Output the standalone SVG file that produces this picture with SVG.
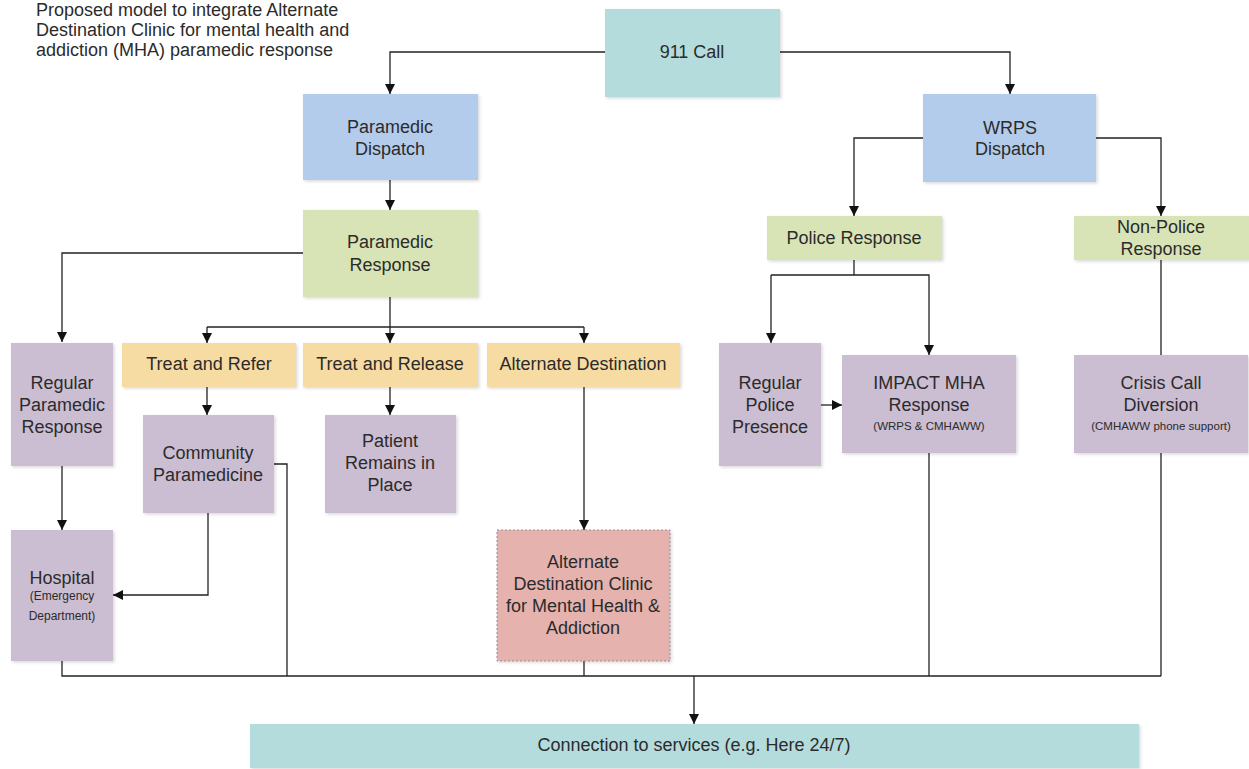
<svg xmlns="http://www.w3.org/2000/svg" width="1249" height="769" viewBox="0 0 1249 769">
<defs>
<marker id="arr" viewBox="0 0 10 10" refX="10" refY="5" markerWidth="10" markerHeight="10" markerUnits="userSpaceOnUse" orient="auto">
<path d="M0,0 L10,5 L0,10 z" fill="#111"/>
</marker>
<filter id="sh" x="-5%" y="-5%" width="115%" height="115%">
<feDropShadow dx="1.5" dy="1.5" stdDeviation="1.5" flood-color="#000" flood-opacity="0.15"/>
</filter>
</defs>
<style>
text{font-family:"Liberation Sans",Arial,sans-serif;fill:#2b2b2b;font-size:18px;text-anchor:middle}
.title{font-size:18px;text-anchor:start}
.sm{font-size:11.5px}
.sm2{font-size:12px}
.teal{fill:#b5dcdc;filter:url(#sh)}
.blue{fill:#b3cceb;filter:url(#sh)}
.green{fill:#d8e4b6;filter:url(#sh)}
.yellow{fill:#f6dba3;filter:url(#sh)}
.purple{fill:#cbbdd2;filter:url(#sh)}
.pink{fill:#e5b2ae;stroke:#9a8a9a;stroke-width:1;stroke-dasharray:2,2;filter:url(#sh)}
.c{fill:none;stroke:#222;stroke-width:1.3}
.a{marker-end:url(#arr)}
</style>
<rect width="1249" height="769" fill="#fff"/>
<g id="title">
<text class="title" x="36" y="16">Proposed model to integrate Alternate</text>
<text class="title" x="36" y="36">Destination Clinic for mental health and</text>
<text class="title" x="36" y="56">addiction (MHA) paramedic response</text>
</g>
<g id="connectors">
<path class="c a" d="M605,52 H390 V94"/>
<path class="c a" d="M780,52 H1010 V94"/>
<path class="c a" d="M390,180 V210"/>
<path class="c a" d="M303,253 H62 V342"/>
<path class="c" d="M390,297 V327"/>
<path class="c a" d="M207,327 V343"/>
<path class="c" d="M207,327 H584"/>
<path class="c a" d="M390,327 V343"/>
<path class="c a" d="M584,327 V343"/>
<path class="c a" d="M207,387 V415"/>
<path class="c a" d="M390,387 V415"/>
<path class="c a" d="M584,387 V530"/>
<path class="c a" d="M62,466 V530"/>
<path class="c a" d="M208,513 V595 H113"/>
<path class="c" d="M274,464 H287 V676"/>
<path class="c" d="M62,661 V676 H1161"/>
<path class="c" d="M584,661 V676"/>
<path class="c a" d="M923,138 H854 V216"/>
<path class="c a" d="M1096,138 H1161 V216"/>
<path class="c" d="M854,260 V275"/>
<path class="c a" d="M771,275 H929 V355"/>
<path class="c a" d="M771,275 V343"/>
<path class="c a" d="M821,405 H842"/>
<path class="c" d="M1161,260 V355"/>
<path class="c" d="M929,453 V676"/>
<path class="c" d="M1161,453 V676"/>
<path class="c a" d="M694,676 V724"/>
</g>
<g id="n911"><rect class="teal" x="605" y="9" width="175" height="88"/><text x="692" y="58">911 Call</text></g>
<g id="paramedicDispatch"><rect class="blue" x="303" y="94" width="175" height="86"/><text x="390" y="133">Paramedic</text><text x="390" y="155">Dispatch</text></g>
<g id="wrpsDispatch"><rect class="blue" x="923" y="94" width="173" height="88"/><text x="1010" y="134">WRPS</text><text x="1010" y="155">Dispatch</text></g>
<g id="paramedicResponse"><rect class="green" x="303" y="210" width="175" height="87"/><text x="390" y="248">Paramedic</text><text x="390" y="271">Response</text></g>
<g id="policeResponse"><rect class="green" x="767" y="216" width="175" height="44"/><text x="854" y="244">Police Response</text></g>
<g id="nonPoliceResponse"><rect class="green" x="1074" y="216" width="175" height="44"/><text x="1161" y="233">Non-Police</text><text x="1161" y="255">Response</text></g>
<g id="regularParamedic"><rect class="purple" x="11" y="343" width="102" height="123"/><text x="62" y="389">Regular</text><text x="62" y="411">Paramedic</text><text x="62" y="433">Response</text></g>
<g id="treatRefer"><rect class="yellow" x="122" y="343" width="174" height="44"/><text x="209" y="370">Treat and Refer</text></g>
<g id="treatRelease"><rect class="yellow" x="303" y="343" width="175" height="44"/><text x="390" y="370">Treat and Release</text></g>
<g id="altDest"><rect class="yellow" x="487" y="343" width="193" height="44"/><text x="583" y="370">Alternate Destination</text></g>
<g id="communityParamedicine"><rect class="purple" x="143" y="415" width="131" height="98"/><text x="208" y="459">Community</text><text x="208" y="481">Paramedicine</text></g>
<g id="patientRemains"><rect class="purple" x="325" y="415" width="131" height="98"/><text x="390" y="447">Patient</text><text x="390" y="469">Remains in</text><text x="390" y="491">Place</text></g>
<g id="regularPolice"><rect class="purple" x="719" y="343" width="102" height="123"/><text x="770" y="389">Regular</text><text x="770" y="411">Police</text><text x="770" y="433">Presence</text></g>
<g id="impact"><rect class="purple" x="842" y="355" width="174" height="98"/><text x="929" y="389">IMPACT MHA</text><text x="929" y="411">Response</text><text class="sm" x="929" y="430">(WRPS &amp; CMHAWW)</text></g>
<g id="crisis"><rect class="purple" x="1074" y="355" width="174" height="98"/><text x="1161" y="389">Crisis Call</text><text x="1161" y="411">Diversion</text><text class="sm" x="1161" y="430">(CMHAWW phone support)</text></g>
<g id="hospital"><rect class="purple" x="11" y="530" width="102" height="131"/><text x="62" y="584">Hospital</text><text class="sm2" x="62" y="600">(Emergency</text><text class="sm2" x="62" y="620">Department)</text></g>
<g id="clinic"><rect class="pink" x="497" y="530" width="173" height="131"/><text x="583" y="568">Alternate</text><text x="583" y="590">Destination Clinic</text><text x="583" y="612">for Mental Health &amp;</text><text x="583" y="634">Addiction</text></g>
<g id="connection"><rect class="teal" x="250" y="724" width="889" height="44"/><text x="694" y="751">Connection to services (e.g. Here 24/7)</text></g>
</svg>
